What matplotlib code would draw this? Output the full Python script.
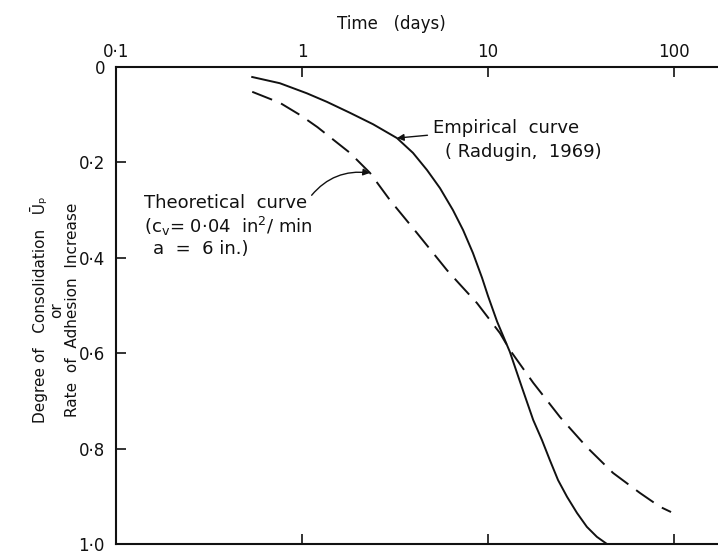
"""
Degree of consolidation vs time: theoretical curve against the empirical
adhesion-increase curve (Radugin, 1969), log time axis on top.
"""
import numpy as np
import matplotlib
matplotlib.use("Agg")
import matplotlib.pyplot as plt
from matplotlib.ticker import FixedLocator, NullLocator

# time in days, degree of consolidation (0 at top, 1 at bottom)
t_empirical = [0.54, 0.76, 1.06, 1.36, 1.81, 2.41, 3.24, 3.95, 4.70, 5.52,
               6.48, 7.35, 8.30, 9.29, 10.0, 11.2, 13.1, 15.2, 17.5, 19.5,
               21.5, 23.8, 26.6, 30.1, 34.0, 38.5, 43.6]
u_empirical = [0.021, 0.034, 0.055, 0.073, 0.096, 0.120, 0.149, 0.180, 0.216,
               0.254, 0.300, 0.342, 0.390, 0.442, 0.480, 0.534, 0.597, 0.671,
               0.740, 0.782, 0.824, 0.866, 0.901, 0.935, 0.964, 0.985, 1.0]

t_theory = [0.54, 0.76, 0.98, 1.21, 1.81, 2.32, 2.97, 4.15, 6.02, 7.07, 8.73,
            11.6, 13.1, 17.5, 24.4, 34.0, 47.0, 65.6, 84.1, 96.4]
u_theory = [0.052, 0.075, 0.101, 0.126, 0.180, 0.222, 0.279, 0.348, 0.426,
            0.456, 0.495, 0.558, 0.593, 0.662, 0.734, 0.797, 0.851, 0.893,
            0.922, 0.933]

x_ticks = [0.1, 1, 10, 100]
x_labels = ["0·1", "1", "10", "100"]
y_ticks = [0, 0.2, 0.4, 0.6, 0.8, 1.0]
y_labels = ["0", "0·2", "0·4", "0·6", "0·8", "1·0"]

W, H = 718, 555
FS = 12
NOTE_FS = 13
INK = "#111111"

fig = plt.figure(figsize=(W / 100, H / 100), dpi=100)
ax = fig.add_axes([116 / W, 1 - 544 / H, 1 - 116 / W, (544 - 67) / H])

ax.plot(t_empirical, u_empirical, color=INK, lw=1.4)
ax.plot(t_theory, u_theory, color=INK, lw=1.4, linestyle=(0, (11, 5)))

ax.set_xscale("log")
ax.set_xlim(0.1, 10 ** (-1 + (W - 116) / 186))
ax.set_ylim(1.0, 0.0)

ax.xaxis.set_major_locator(FixedLocator(x_ticks))
ax.xaxis.set_minor_locator(NullLocator())
ax.set_xticklabels(x_labels)
ax.yaxis.set_major_locator(FixedLocator(y_ticks))
ax.set_yticklabels(y_labels)

ax.tick_params(axis="x", which="major", direction="in", length=7, width=1.2,
               top=True, bottom=True, labeltop=True, labelbottom=False,
               labelsize=FS, pad=4, colors=INK)
ax.tick_params(axis="y", direction="in", length=7, width=1.2, left=True,
               right=False, labelsize=FS, pad=8, colors=INK)

for side in ("top", "left", "bottom"):
    ax.spines[side].set_linewidth(1.5)
    ax.spines[side].set_color(INK)
ax.spines["right"].set_visible(False)

fig.text(391 / W, 1 - 24 / H, "Time   (days)", ha="center", va="center",
         fontsize=FS, color=INK)

# stacked y-axis title, one block of three centred lines
fig.text(55 / W, 1 - 310 / H,
         "Degree of   Consolidation   Ūₚ\n"
         "or\n"
         "Rate  of  Adhesion  Increase",
         rotation=90, ha="center", va="center", multialignment="center",
         linespacing=1.05, fontsize=11, color=INK)

arrow = dict(arrowstyle="-|>", color=INK, lw=1.0, mutation_scale=10,
             shrinkA=2, shrinkB=0)

ax.annotate("Empirical  curve", xy=(t_empirical[6], u_empirical[6]),
            xytext=(433, H - 128), textcoords="figure pixels",
            ha="left", va="center", fontsize=NOTE_FS, color=INK,
            arrowprops=dict(arrow, connectionstyle="arc3,rad=0.0"))
fig.text(445 / W, 1 - 152 / H, "( Radugin,  1969)", ha="left", va="center",
         fontsize=NOTE_FS, color=INK)

ax.annotate("Theoretical  curve", xy=(t_theory[5], u_theory[5]),
            xytext=(144, H - 203), textcoords="figure pixels",
            ha="left", va="center", fontsize=NOTE_FS, color=INK,
            arrowprops=dict(arrow, connectionstyle="arc3,rad=-0.3",
                            relpos=(1.0, 0.6)))
fig.text(144 / W, 1 - 226 / H, "(c$_\\mathrm{v}$= 0·04  in$^2$/ min",
         ha="left", va="center", fontsize=NOTE_FS, color=INK)
fig.text(153 / W, 1 - 249 / H, "a  =  6 in.)", ha="left", va="center",
         fontsize=NOTE_FS, color=INK)

fig.savefig("out.png", dpi=100)
